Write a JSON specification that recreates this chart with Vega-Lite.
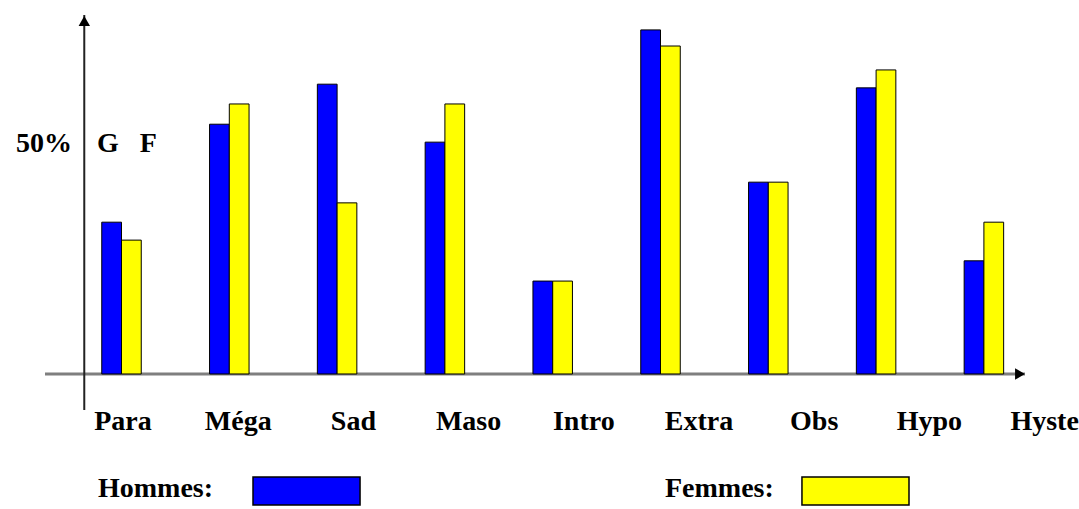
{
  "$schema": "https://vega.github.io/schema/vega-lite/v6.json",
  "width": 980,
  "height": 395,
  "autosize": {"type": "none"},
  "padding": {"left": 45, "top": 15, "right": 54, "bottom": 99},
  "background": "white",
  "config": {
    "view": {"stroke": null},
    "text": {"font": "Liberation Serif", "fontWeight": "bold", "fontSize": 28, "color": "black"}
  },
  "datasets": {
    "scores": [
      {"cat": "Para", "sexe": "Hommes", "pct": 33.0},
      {"cat": "Para", "sexe": "Femmes", "pct": 29.1},
      {"cat": "Méga", "sexe": "Hommes", "pct": 54.3},
      {"cat": "Méga", "sexe": "Femmes", "pct": 58.7},
      {"cat": "Sad", "sexe": "Hommes", "pct": 63.0},
      {"cat": "Sad", "sexe": "Femmes", "pct": 37.2},
      {"cat": "Maso", "sexe": "Hommes", "pct": 50.4},
      {"cat": "Maso", "sexe": "Femmes", "pct": 58.7},
      {"cat": "Intro", "sexe": "Hommes", "pct": 20.2},
      {"cat": "Intro", "sexe": "Femmes", "pct": 20.2},
      {"cat": "Extra", "sexe": "Hommes", "pct": 74.8},
      {"cat": "Extra", "sexe": "Femmes", "pct": 71.3},
      {"cat": "Obs", "sexe": "Hommes", "pct": 41.7},
      {"cat": "Obs", "sexe": "Femmes", "pct": 41.7},
      {"cat": "Hypo", "sexe": "Hommes", "pct": 62.2},
      {"cat": "Hypo", "sexe": "Femmes", "pct": 66.1},
      {"cat": "Hyste", "sexe": "Hommes", "pct": 24.6},
      {"cat": "Hyste", "sexe": "Femmes", "pct": 33.0}
    ],
    "categories": [
      {"cat": "Para"}, {"cat": "Méga"}, {"cat": "Sad"}, {"cat": "Maso"}, {"cat": "Intro"},
      {"cat": "Extra"}, {"cat": "Obs"}, {"cat": "Hypo"}, {"cat": "Hyste"}
    ],
    "legende": [
      {"sexe": "Hommes", "label": "Hommes:"},
      {"sexe": "Femmes", "label": "Femmes:"}
    ],
    "one": [{"k": 1}]
  },
  "resolve": {"scale": {"x": "independent"}},
  "layer": [
    {
      "data": {"name": "one"},
      "mark": {"type": "rule", "color": "#7f7f7f", "strokeWidth": 3},
      "encoding": {"y": {"datum": 0, "scale": {"domain": [-7.83, 78.04], "nice": false, "zero": false}, "axis": null}}
    },
    {
      "data": {"name": "scores"},
      "transform": [{"filter": "datum.sexe === 'Hommes'"}],
      "mark": {"type": "bar", "stroke": "black", "strokeWidth": 1, "color": "#0000ff", "width": 19.75, "xOffset": -9.875},
      "encoding": {
        "x": {
          "field": "cat", "type": "nominal",
          "scale": {"domain": ["Para", "Méga", "Sad", "Maso", "Intro", "Extra", "Obs", "Hypo", "Hyste"], "range": [22.6, 992.8], "paddingInner": 0.634, "paddingOuter": 0.317},
          "axis": null
        },
        "y": {"field": "pct", "type": "quantitative", "scale": {"domain": [-7.83, 78.04], "nice": false, "zero": false}, "axis": null},
        "y2": {"datum": 0}
      }
    },
    {
      "data": {"name": "scores"},
      "transform": [{"filter": "datum.sexe === 'Femmes'"}],
      "mark": {"type": "bar", "stroke": "black", "strokeWidth": 1, "color": "#ffff00", "width": 19.75, "xOffset": 9.875},
      "encoding": {
        "x": {
          "field": "cat", "type": "nominal",
          "scale": {"domain": ["Para", "Méga", "Sad", "Maso", "Intro", "Extra", "Obs", "Hypo", "Hyste"], "range": [22.6, 992.8], "paddingInner": 0.634, "paddingOuter": 0.317},
          "axis": null
        },
        "y": {"field": "pct", "type": "quantitative", "scale": {"domain": [-7.83, 78.04], "nice": false, "zero": false}, "axis": null},
        "y2": {"datum": 0}
      }
    },
    {
      "data": {"name": "one"},
      "mark": {"type": "rule", "color": "#222222", "strokeWidth": 2, "xOffset": -17.5},
      "encoding": {
        "x": {"datum": "Para", "bandPosition": 0, "scale": {"domain": ["Para", "Méga", "Sad", "Maso", "Intro", "Extra", "Obs", "Hypo", "Hyste"], "range": [22.6, 992.8], "paddingInner": 0.634, "paddingOuter": 0.317}, "axis": null}
      }
    },
    {
      "data": {"name": "one"},
      "mark": {"type": "point", "shape": "triangle-up", "filled": true, "color": "black", "size": 130, "opacity": 1, "xOffset": -37.2, "yOffset": 6},
      "encoding": {
        "x": {"datum": "Para", "scale": {"domain": ["Para", "Méga", "Sad", "Maso", "Intro", "Extra", "Obs", "Hypo", "Hyste"], "range": [22.6, 992.8], "paddingInner": 0.634, "paddingOuter": 0.317}, "axis": null},
        "y": {"datum": 78.04}
      }
    },
    {
      "data": {"name": "one"},
      "mark": {"type": "point", "shape": "triangle-right", "filled": true, "color": "black", "size": 130, "opacity": 1, "xOffset": -5},
      "encoding": {"x": {"value": "width"}, "y": {"datum": 0}}
    },
    {
      "data": {"name": "one"},
      "mark": {"type": "text", "text": "50%", "align": "right", "baseline": "alphabetic", "dx": -49.5},
      "encoding": {
        "x": {"datum": "Para", "scale": {"domain": ["Para", "Méga", "Sad", "Maso", "Intro", "Extra", "Obs", "Hypo", "Hyste"], "range": [22.6, 992.8], "paddingInner": 0.634, "paddingOuter": 0.317}, "axis": null},
        "y": {"datum": 48.26}
      }
    },
    {
      "data": {"name": "one"},
      "mark": {"type": "text", "text": "G\u00a0\u00a0\u00a0F", "align": "left", "baseline": "alphabetic", "dx": -24.5},
      "encoding": {
        "x": {"datum": "Para", "scale": {"domain": ["Para", "Méga", "Sad", "Maso", "Intro", "Extra", "Obs", "Hypo", "Hyste"], "range": [22.6, 992.8], "paddingInner": 0.634, "paddingOuter": 0.317}, "axis": null},
        "y": {"datum": 48.26}
      }
    },
    {
      "data": {"name": "categories"},
      "mark": {"type": "text", "align": "center", "baseline": "alphabetic"},
      "encoding": {
        "x": {
          "field": "cat", "type": "nominal",
          "scale": {"type": "point", "domain": ["Para", "Méga", "Sad", "Maso", "Intro", "Extra", "Obs", "Hypo", "Hyste"], "range": [78, 999.6], "padding": 0},
          "axis": null
        },
        "y": {"datum": -12.17},
        "text": {"field": "cat"}
      }
    },
    {
      "data": {"name": "legende"},
      "mark": {"type": "text", "align": "left", "baseline": "alphabetic"},
      "encoding": {
        "x": {"field": "sexe", "type": "nominal", "scale": {"type": "point", "domain": ["Hommes", "Femmes"], "range": [53, 620], "padding": 0}, "axis": null},
        "y": {"datum": -26.74},
        "text": {"field": "label"}
      }
    },
    {
      "data": {"name": "legende"},
      "mark": {"type": "rect", "stroke": "black", "strokeWidth": 1.5},
      "encoding": {
        "x": {"field": "sexe", "type": "nominal", "scale": {"type": "band", "domain": ["Hommes", "Femmes"], "range": [208, 864], "paddingInner": 0.805, "paddingOuter": 0}, "axis": null},
        "y": {"datum": -22.39},
        "y2": {"datum": -28.48},
        "color": {"field": "sexe", "type": "nominal", "scale": {"domain": ["Hommes", "Femmes"], "range": ["#0000ff", "#ffff00"]}, "legend": null}
      }
    }
  ]
}
